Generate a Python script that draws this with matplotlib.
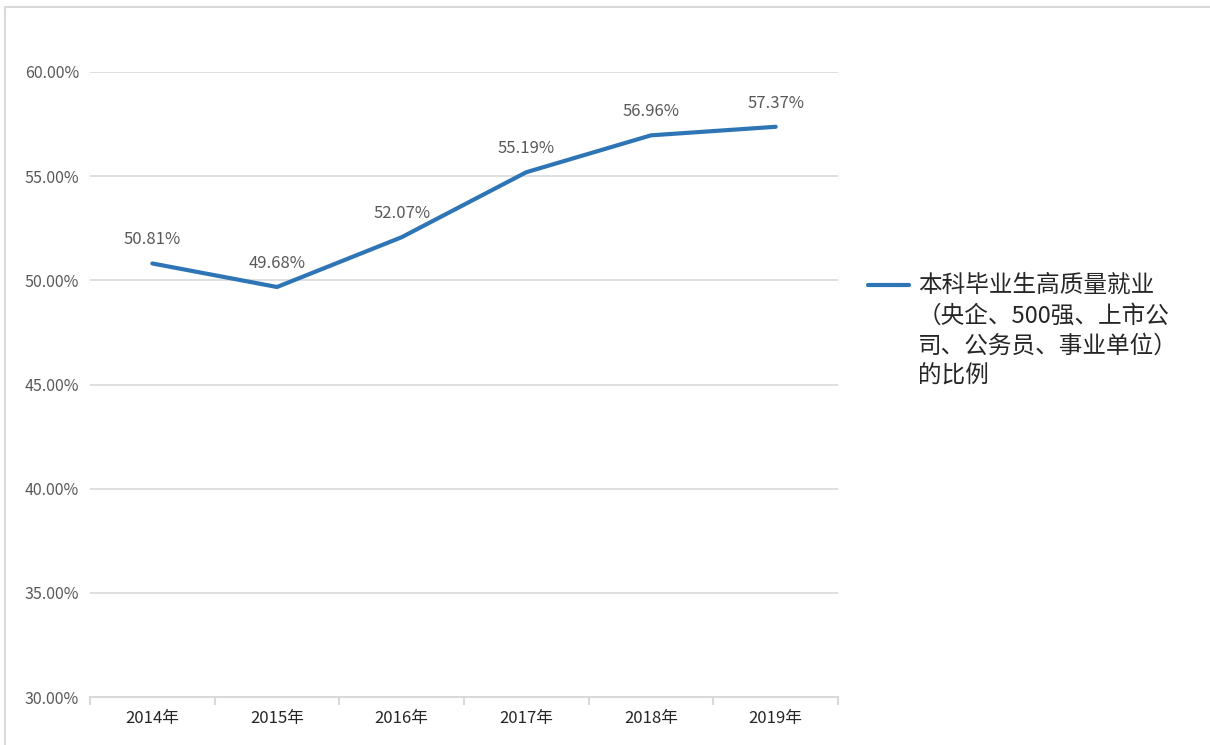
import matplotlib
matplotlib.use('Agg')
import matplotlib.pyplot as plt
from matplotlib.patches import Rectangle
from matplotlib.lines import Line2D
from matplotlib.ticker import FuncFormatter, FixedLocator

plt.rcParams['font.family'] = ['Noto Sans CJK SC', 'DejaVu Sans']

years = ['2014年', '2015年', '2016年', '2017年', '2018年', '2019年']
ratio = [50.81, 49.68, 52.07, 55.19, 56.96, 57.37]
series_name = '本科毕业生高质量就业\n（央企、500强、上市公\n司、公务员、事业单位）\n的比例'

blue = '#2E75B6'
grid = '#D9D9D9'
label_gray = '#595959'

W, H = 1210, 745
fig = plt.figure(figsize=(W / 100, H / 100), dpi=100)
# chart border like the excel frame
fig.patches.append(Rectangle((5 / W, -0.1), 1.2, (H - 7) / H + 0.1,
                             transform=fig.transFigure, fill=False,
                             edgecolor=grid, linewidth=1.5))

ax = fig.add_axes([90 / W, 48 / H, 748 / W, 625 / H])
x = list(range(len(years)))
ax.plot(x, ratio, color=blue, linewidth=3, solid_capstyle='round')

for xi, v in zip(x, ratio):
    ax.annotate(f'{v:.2f}%', (xi, v), xytext=(0, 11), textcoords='offset points',
                ha='center', va='bottom', fontsize=12, color=label_gray)

ax.set_xlim(-0.5, len(years) - 0.5)
ax.set_ylim(30, 60)
ax.set_yticks([30, 35, 40, 45, 50, 55, 60])
ax.yaxis.set_major_formatter(FuncFormatter(lambda v, p: f'{v:.2f}%'))
ax.set_xticks(x)
ax.set_xticklabels(years)
ax.xaxis.set_minor_locator(FixedLocator([i - 0.5 for i in range(len(years) + 1)]))
ax.tick_params(axis='x', which='major', length=0, pad=9, labelsize=12, labelcolor='#262626')
ax.tick_params(axis='x', which='minor', length=6, width=1.5, color=grid, direction='out')
ax.tick_params(axis='y', length=0, pad=8, labelsize=11.5, labelcolor=label_gray)

ax.grid(axis='y', color=grid, linewidth=1.2)
ax.set_axisbelow(True)
for s in ['top', 'right', 'left']:
    ax.spines[s].set_visible(False)
ax.spines['bottom'].set_color(grid)
ax.spines['bottom'].set_linewidth(1.5)

# legend: handle aligned with the first text line, like excel
fig.add_artist(Line2D([868 / W, 909 / W], [(H - 285) / H] * 2, color=blue,
                      linewidth=3, solid_capstyle='round', transform=fig.transFigure))
fig.text(918 / W, (H - 274) / H, series_name, ha='left', va='top',
         fontsize=17, color='#262626', linespacing=1.41)

fig.savefig('out.png', dpi=100)
